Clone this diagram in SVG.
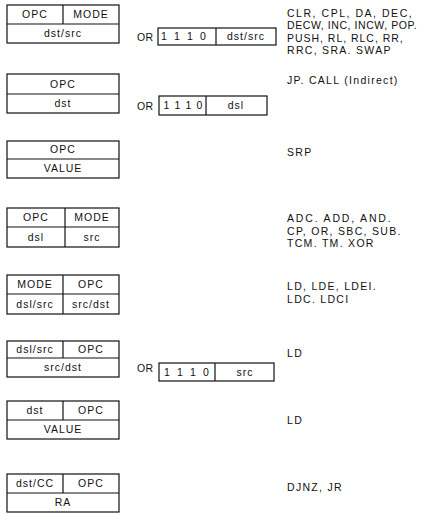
<svg xmlns="http://www.w3.org/2000/svg" width="438" height="515" viewBox="0 0 438 515">
<style>
.b{fill:none;stroke:#111;stroke-width:1.2}
.t{font-family:"Liberation Sans",Arial,sans-serif;font-size:10.5px;fill:#111;letter-spacing:1px}
.c{text-anchor:middle}
.o{font-family:"Liberation Sans",Arial,sans-serif;font-size:10.5px;fill:#111;letter-spacing:0.3px}
.r{font-family:"Liberation Sans",Arial,sans-serif;font-size:10.5px;fill:#111;letter-spacing:1.3px}
</style>
<rect width="438" height="515" fill="#fff"/>
<g id="fmt1">
<rect class="b" x="7" y="5" width="112" height="38"/>
<line class="b" x1="7" y1="24" x2="119" y2="24"/>
<line class="b" x1="63" y1="5" x2="63" y2="24"/>
<text class="t c" x="35" y="18">OPC</text>
<text class="t c" x="91" y="18">MODE</text>
<text class="t c" x="63" y="37">dst/src</text>
<text class="o" x="137" y="41">OR</text>
<rect class="b" x="158" y="28" width="118" height="17"/>
<line class="b" x1="216" y1="28" x2="216" y2="45"/>
<text class="o" x="161 167.5 174 180.5 187 193.5 200" y="40">1 1 1 0</text>
<text class="t c" x="246" y="40">dst/src</text>
<text class="r" x="287" y="16.5" textLength="126" lengthAdjust="spacing">CLR, CPL, DA, DEC,</text>
<text class="r" x="287" y="29" textLength="131" lengthAdjust="spacing">DECW, INC, INCW, POP.</text>
<text class="r" x="287" y="41.5" textLength="117" lengthAdjust="spacing">PUSH, RL, RLC, RR,</text>
<text class="r" x="287" y="54">RRC, SRA. SWAP</text>
</g>
<g id="fmt2">
<rect class="b" x="7" y="74" width="112" height="39"/>
<line class="b" x1="7" y1="94" x2="119" y2="94"/>
<text class="t c" x="63" y="88">OPC</text>
<text class="t c" x="63" y="107">dst</text>
<text class="o" x="137" y="110">OR</text>
<rect class="b" x="159" y="96" width="108" height="19"/>
<line class="b" x1="206" y1="96" x2="206" y2="115"/>
<text class="o" x="163.5 169 174.5 180 185.5 191 196.5" y="109">1 1 1 0</text>
<text class="t c" x="236" y="109">dsl</text>
<text class="r" x="287" y="83.5">JP. CALL (Indirect)</text>
</g>
<g id="fmt3">
<rect class="b" x="7" y="141" width="112" height="37"/>
<line class="b" x1="7" y1="159" x2="119" y2="159"/>
<text class="t c" x="63" y="153">OPC</text>
<text class="t c" x="63" y="172">VALUE</text>
<text class="r" x="287" y="156">SRP</text>
</g>
<g id="fmt4">
<rect class="b" x="7" y="208" width="112" height="39"/>
<line class="b" x1="7" y1="227" x2="119" y2="227"/>
<line class="b" x1="65" y1="208" x2="65" y2="247"/>
<text class="t c" x="36" y="221">OPC</text>
<text class="t c" x="92" y="221">MODE</text>
<text class="t c" x="36" y="240.5">dsl</text>
<text class="t c" x="92" y="240.5">src</text>
<text class="r" x="287" y="222" textLength="105" lengthAdjust="spacing">ADC. ADD, AND.</text>
<text class="r" x="287" y="234.5">CP, OR, SBC, SUB.</text>
<text class="r" x="287" y="247">TCM. TM. XOR</text>
</g>
<g id="fmt5">
<rect class="b" x="7" y="275" width="112" height="39"/>
<line class="b" x1="7" y1="294" x2="119" y2="294"/>
<line class="b" x1="63" y1="275" x2="63" y2="314"/>
<text class="t c" x="35" y="288">MODE</text>
<text class="t c" x="91" y="288">OPC</text>
<text class="t c" x="35" y="307.5">dsl/src</text>
<text class="t c" x="91" y="307.5">src/dst</text>
<text class="r" x="287" y="290">LD, LDE, LDEI.</text>
<text class="r" x="287" y="302.5">LDC. LDCI</text>
</g>
<g id="fmt6">
<rect class="b" x="7" y="341" width="112" height="36"/>
<line class="b" x1="7" y1="358" x2="119" y2="358"/>
<line class="b" x1="63" y1="341" x2="63" y2="358"/>
<text class="t c" x="35" y="353">dsl/src</text>
<text class="t c" x="91" y="353">OPC</text>
<text class="t c" x="63" y="371">src/dst</text>
<text class="o" x="137" y="372">OR</text>
<rect class="b" x="159" y="363" width="115" height="18"/>
<line class="b" x1="215" y1="363" x2="215" y2="381"/>
<text class="o" x="164 170.5 177 183.5 190 196.5 203" y="376">1 1 1 0</text>
<text class="t c" x="245" y="376">src</text>
<text class="r" x="287" y="357">LD</text>
</g>
<g id="fmt7">
<rect class="b" x="7" y="401" width="112" height="38"/>
<line class="b" x1="7" y1="420" x2="119" y2="420"/>
<line class="b" x1="63" y1="401" x2="63" y2="420"/>
<text class="t c" x="35" y="414">dst</text>
<text class="t c" x="91" y="414">OPC</text>
<text class="t c" x="63" y="433">VALUE</text>
<text class="r" x="287" y="424">LD</text>
</g>
<g id="fmt8">
<rect class="b" x="7" y="474" width="112" height="38"/>
<line class="b" x1="7" y1="493" x2="119" y2="493"/>
<line class="b" x1="63" y1="474" x2="63" y2="493"/>
<text class="t c" x="35" y="487">dst/CC</text>
<text class="t c" x="91" y="487">OPC</text>
<text class="t c" x="63" y="506">RA</text>
<text class="r" x="287" y="491">DJNZ, JR</text>
</g>
</svg>
